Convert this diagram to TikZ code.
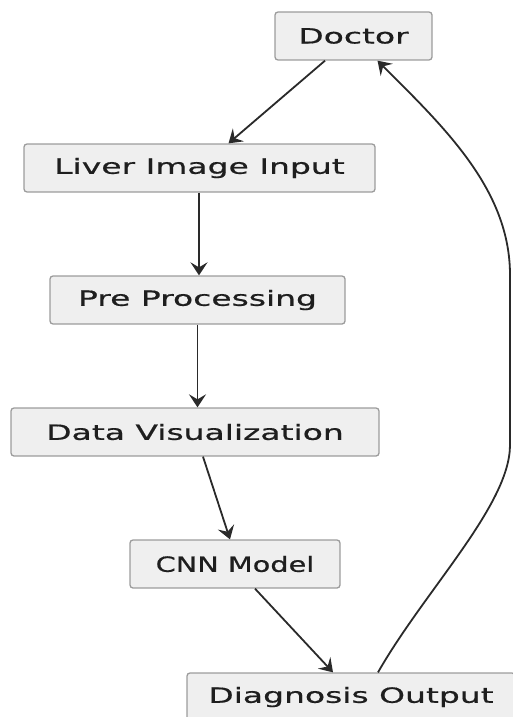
\documentclass[tikz,border=0pt]{standalone}
\usepackage{fontspec}
\setmainfont{DejaVu Sans}[FakeStretch=1.57,FakeBold=0.6]
\newfontfamily\cnnfont{DejaVu Sans}[FakeStretch=1.37,FakeBold=0.6]
\usetikzlibrary{arrows.meta}
\definecolor{boxfill}{HTML}{EFEFEF}
\definecolor{boxline}{HTML}{9C9C9C}
\definecolor{inkcol}{HTML}{1E1E1E}
\definecolor{wirecol}{HTML}{2A2A2A}
\begin{document}
\begin{tikzpicture}[x=1pt,y=-1pt,
  stage/.style={draw=boxline, fill=boxfill, line width=1.3pt, rounded corners=3pt,
    inner sep=0pt, minimum height=48pt, text=inkcol,
    font=\fontsize{21}{25}\selectfont},
  flow/.style={draw=wirecol, line width=1.8pt,
    -{Stealth[length=13pt,width=17pt,inset=5pt]}}]
\useasboundingbox (0,0) rectangle (513,717);
\begin{scope}
\clip (0,0) rectangle (513,717);
\node[stage, minimum width=157pt] (doc)   at (353.5,36)  {Doctor};
\node[stage, minimum width=351pt] (liver) at (199.5,168) {Liver Image Input};
\node[stage, minimum width=295pt] (pre)   at (197.5,300) {Pre Processing};
\node[stage, minimum width=368pt] (data)  at (195,432)   {Data Visualization};
\node[stage, minimum width=210pt] (cnn)   at (235,564)   {\cnnfont CNN Model};
\node[stage, minimum width=328pt] (diag)  at (351,697)   {Diagnosis Output};
\end{scope}

\draw[flow] ([xshift=-28.5pt]doc.south) -- ([xshift=29pt]liver.north);
\draw[flow] ([xshift=-0.5pt]liver.south) -- ([xshift=-0.5pt]liver.south |- pre.north);
\draw[flow] (pre.south) -- (pre.south |- data.north);
\draw[flow] ([xshift=8pt]data.south) -- ([xshift=-5pt]cnn.north);
\draw[flow] ([xshift=20pt]cnn.south) -- ([xshift=-18pt]diag.north);

% feedback loop from the output back to the doctor
\coordinate (bendlo) at (510,445);
\coordinate (bendhi) at (510,275);
\draw[flow] ([xshift=27pt]diag.north) .. controls (425,590) and (510,505) .. (bendlo)
  -- (bendhi) .. controls (510,190) and (445,128) .. ([xshift=24pt]doc.south);
\end{tikzpicture}
\end{document}
